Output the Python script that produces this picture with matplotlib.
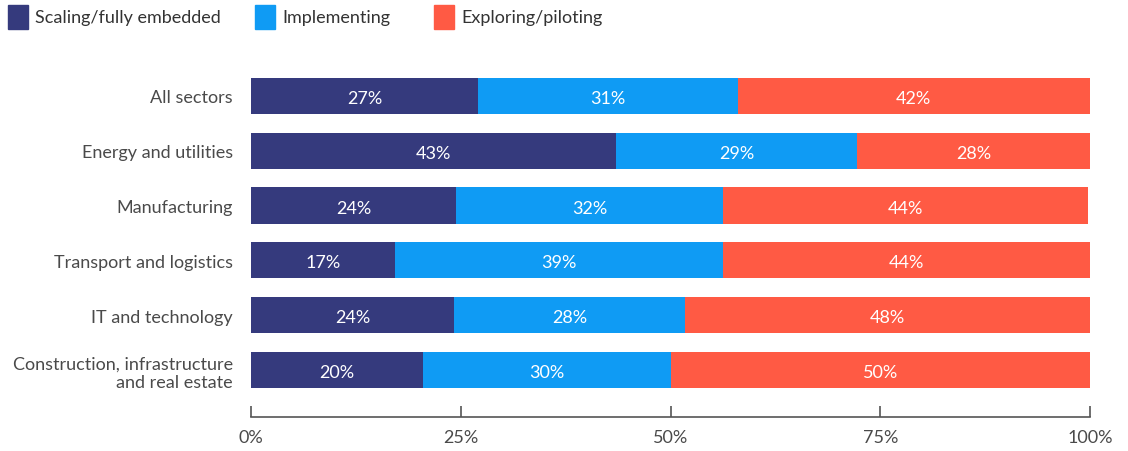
import matplotlib
matplotlib.use("Agg")
import matplotlib.pyplot as plt
from matplotlib.patches import Rectangle
import numpy as np

plt.rcParams['font.family'] = ['Lato', 'DejaVu Sans']

categories = ["All sectors", "Energy and utilities", "Manufacturing",
              "Transport and logistics", "IT and technology",
              "Construction, infrastructure\nand real estate"]
series_names = ["Scaling/fully embedded", "Implementing", "Exploring/piloting"]
scaling = [27.1, 43.5, 24.4, 17.2, 24.2, 20.5]
implementing = [30.9, 28.7, 31.9, 39.1, 27.5, 29.6]
exploring = [42.0, 27.8, 43.5, 43.7, 48.3, 49.9]
scaling_labels = ["27%", "43%", "24%", "17%", "24%", "20%"]
implementing_labels = ["31%", "29%", "32%", "39%", "28%", "30%"]
exploring_labels = ["42%", "28%", "44%", "44%", "48%", "50%"]
xticks = [0, 25, 50, 75, 100]
xticklabels = ["0%", "25%", "50%", "75%", "100%"]

colors = ["#353a7d", "#0f9bf4", "#ff5a44"]
text_gray = "#4a4a4a"
fs = 13

W, H = 1128, 452
fig = plt.figure(figsize=(W / 100, H / 100), dpi=100)
ax = fig.add_axes([251 / W, 1 - 418 / H, (1090 - 251) / W, (418 - 64) / H])

y = np.arange(len(categories))
left = np.zeros(len(categories))
for vals, labs, col in zip([scaling, implementing, exploring],
                           [scaling_labels, implementing_labels, exploring_labels],
                           colors):
    vals = np.array(vals)
    ax.barh(y, vals, left=left, height=0.66, color=col, edgecolor='none')
    for yi, l, v, lab in zip(y, left, vals, labs):
        ax.text(l + v / 2, yi + 0.04, lab, ha='center', va='center',
                color='white', fontsize=fs)
    left = left + vals

ax.set_xlim(0, 100)
ax.set_ylim(5.86, -0.6)
ax.set_yticks(y)
ax.set_yticklabels(categories, fontsize=fs, color=text_gray, linespacing=1.2)
ax.tick_params(axis='y', length=0, pad=13)
ax.set_xticks(xticks)
ax.set_xticklabels(xticklabels, fontsize=fs, color=text_gray)
ax.tick_params(axis='x', direction='in', length=8, width=1.2, color='#555555', pad=-8)
for lab in ax.get_xticklabels():
    lab.set_y(-0.065)
for s in ['top', 'right', 'left']:
    ax.spines[s].set_visible(False)
ax.spines['bottom'].set_color('#555555')
ax.spines['bottom'].set_linewidth(1.2)

# legend
leg_x = [8, 255, 434]
for xpix, name, col in zip(leg_x, series_names, colors):
    fig.patches.append(Rectangle((xpix / W, 1 - 30 / H), 20 / W, 24 / H,
                                 transform=fig.transFigure, color=col))
    fig.text((xpix + 27) / W, 1 - 18 / H, name, ha='left', va='center',
             fontsize=fs, color='#333333')

fig.savefig("out.png", dpi=100)
